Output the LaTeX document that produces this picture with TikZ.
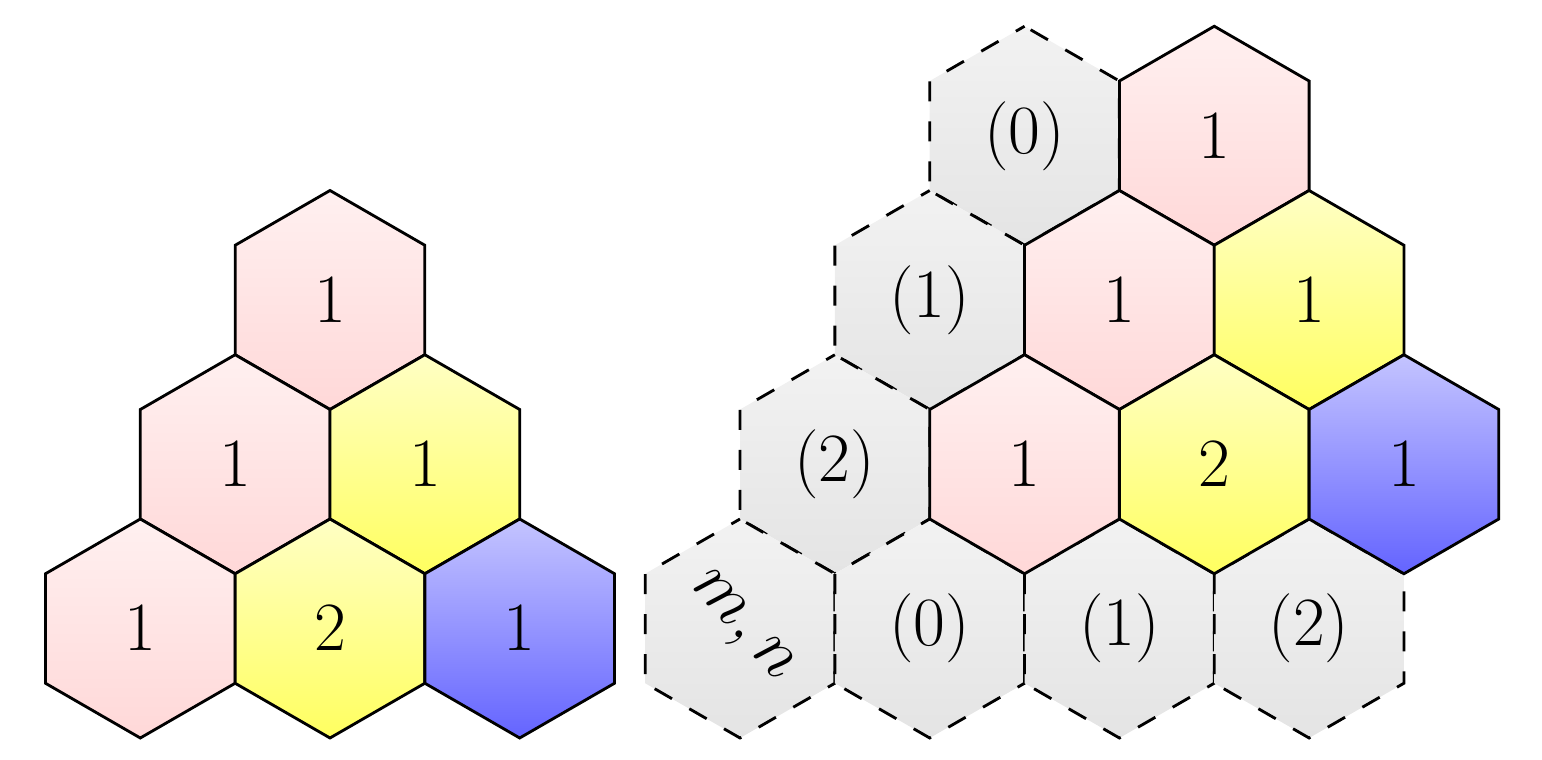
\documentclass[tikz,border=0pt]{standalone}
\usetikzlibrary{shapes.geometric}
\definecolor{pinkT}{RGB}{255,240,240}
\definecolor{pinkB}{RGB}{255,216,216}
\definecolor{yelT}{RGB}{255,255,196}
\definecolor{yelB}{RGB}{255,255,96}
\definecolor{bluT}{RGB}{196,196,255}
\definecolor{bluB}{RGB}{100,100,255}
\definecolor{grayT}{RGB}{242,242,242}
\definecolor{grayB}{RGB}{228,228,228}
\begin{document}
\begin{tikzpicture}[x=0.3pt,y=-0.3pt,
  hexa/.style={regular polygon, regular polygon sides=6, shape border rotate=30,
    minimum size=65.7pt, inner sep=0pt, outer sep=0pt, line width=0.85pt,
    line join=miter, font=\fontsize{22}{26}\selectfont},
  pinkhex/.style={hexa, draw, top color=pinkT, bottom color=pinkB},
  yelhex/.style={hexa, draw, top color=yelT, bottom color=yelB},
  bluhex/.style={hexa, draw, top color=bluT, bottom color=bluB},
  grayhex/.style={hexa, draw, dash pattern=on 6pt off 6pt, dash phase=3pt, top color=grayT, bottom color=grayB}]
\useasboundingbox (0,0) rectangle (1542,760);
% left triangle
\node[pinkhex] (L1) at (330,300) {$1$};
\node[pinkhex] (L2) at (235.15,464.25) {$1$};
\node[yelhex]  (L3) at (424.85,464.25) {$1$};
\node[pinkhex] (L4) at (140.3,628.5) {$1$};
\node[yelhex]  (L5) at (330,628.5) {$2$};
\node[bluhex]  (L6) at (519.7,628.5) {$1$};
% right: gray dashed cells first
\node[grayhex] (G0) at (1024.55,135.75) {$(0)$};
\node[grayhex] (G1) at (929.7,300) {$(1)$};
\node[grayhex] (G2) at (834.85,464.25) {$(2)$};
\node[grayhex] (GM) at (740,628.5) {\rotatebox{-48}{$m,n$}};
\node[grayhex] (B0) at (929.7,628.5) {$(0)$};
\node[grayhex] (B1) at (1119.4,628.5) {$(1)$};
\node[grayhex] (B2) at (1309.1,628.5) {$(2)$};
% right: coloured cells
\node[pinkhex] (R1) at (1214.25,135.75) {$1$};
\node[pinkhex] (R2) at (1119.4,300) {$1$};
\node[yelhex]  (R3) at (1309.1,300) {$1$};
\node[pinkhex] (R4) at (1024.55,464.25) {$1$};
\node[yelhex]  (R5) at (1214.25,464.25) {$2$};
\node[bluhex]  (R6) at (1403.95,464.25) {$1$};
\end{tikzpicture}
\end{document}
